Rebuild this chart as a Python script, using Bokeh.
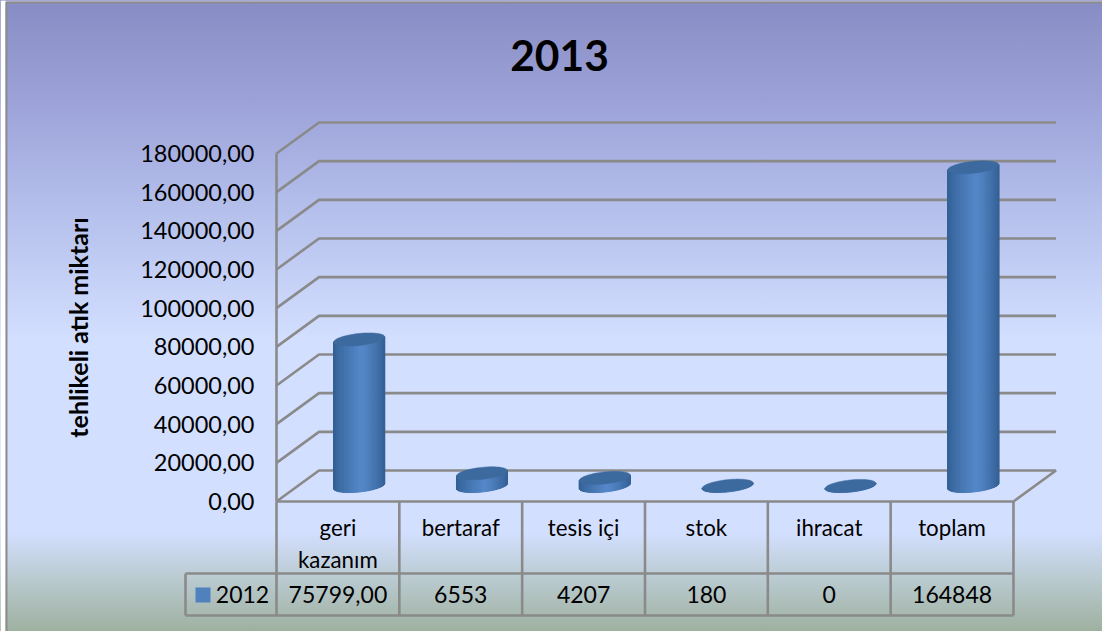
import numpy as np
from bokeh.plotting import figure
from bokeh.models import Range1d, LinearAxis, FixedTicker
from bokeh.core.properties import value
from bokeh.embed import file_html
from bokeh.resources import INLINE

# --- data ---
title = "2013"
categories = ["geri\nkazanım", "bertaraf", "tesis içi", "stok", "ihracat", "toplam"]
values = [75799.0, 6553, 4207, 180, 0, 164848]
table_labels = ["75799,00", "6553", "4207", "180", "0", "164848"]
series_name = "2012"
y_ticks = [0, 20000, 40000, 60000, 80000, 100000, 120000, 140000, 160000, 180000]
y_tick_labels = ["0,00", "20000,00", "40000,00", "60000,00", "80000,00", "100000,00",
                 "120000,00", "140000,00", "160000,00", "180000,00"]
y_label = "tehlikeli atık miktarı"

# --- layout in page pixels, mapped to data space ---
COL = 122.83
UNIT = 180000 / 348
def X(px): return (px - 276) / COL
def Y(py): return (501 - py) * UNIT
DX = 42.5 / COL
DY = 31 * UNIT
FONT = value("Lato")
GREY = "#8a8a8a"
LW = 2.6
W, H = 1102, 631

stops = [(0, (136, 140, 196)), (100, (156, 162, 216)), (200, (178, 189, 234)),
         (340, (211, 223, 255)), (532, (211, 223, 255)), (575, (188, 204, 212)), (631, (158, 177, 160))]
grad = "linear-gradient(to bottom," + ",".join(
    f"rgb{c} {y / H * 100:.2f}%" for y, c in stops) + ")"

p = figure(width=W, height=H, output_backend="svg", toolbar_location=None,
           x_range=Range1d(X(0), X(W)), y_range=Range1d(Y(H), Y(0)),
           x_axis_type=None, y_axis_type=None, min_border=0,
           background_fill_color=None, border_fill_color=None, outline_line_color=None,
           styles={"background": grad})
p.grid.visible = False

# outer frame of the chart area
p.quad(left=[X(0), X(0)], right=[X(5), X(W)], top=[Y(0), Y(0)], bottom=[Y(H), Y(1)],
       fill_color="#ffffff", line_color=None)
p.multi_line([[X(6), X(6), X(W)]], [[Y(H), Y(2), Y(2)]], line_color="#8c8c8c", line_width=2)

# walls: gridlines
xs, ys = [], []
for t in y_ticks[1:]:
    xs.append([0, DX, 6 + DX]); ys.append([t, t + DY, t + DY])
xs.append([0, DX, 6 + DX, 6, 0]); ys.append([0, DY, DY, 0, 0])
p.multi_line(xs, ys, line_color=GREY, line_width=LW)

# axes
ya = LinearAxis(fixed_location=0, ticker=FixedTicker(ticks=y_ticks), bounds=(0, 180000),
                major_label_overrides=dict(zip(y_ticks, y_tick_labels)),
                axis_line_color=GREY, axis_line_width=LW,
                major_tick_line_color=None, minor_tick_line_color=None, major_tick_out=0, major_tick_in=0,
                major_label_text_font="Lato", major_label_text_font_size="23.5px",
                major_label_text_color="#000000", major_label_standoff=22,
                axis_label=y_label, axis_label_text_font="Lato", axis_label_text_font_style="bold",
                axis_label_text_font_size="25px", axis_label_text_color="#000000", axis_label_standoff=44)
p.add_layout(ya, "left")
cat_pos = [i + 0.5 for i in range(len(categories))]
xa = LinearAxis(fixed_location=0, ticker=FixedTicker(ticks=cat_pos),
                major_label_overrides=dict(zip(cat_pos, categories)),
                axis_line_color=None, major_tick_line_color=None, minor_tick_line_color=None,
                major_tick_out=0, major_tick_in=0,
                major_label_text_font="Lato", major_label_text_font_size="22.3px",
                major_label_text_color="#000000", major_label_standoff=12,
                major_label_text_line_height=1.2)
p.add_layout(xa, "below")

# cylinders
R = 25.5 / COL
TILT = 2.6 * UNIT
B = 6 * UNIT
th = np.linspace(np.pi, 0, 41)
U = np.cos(th)
def shade(u):
    t = (u + 1) / 2
    a, m, z = np.array((50, 95, 148)), np.array((85, 136, 201)), np.array((54, 98, 150))
    c = a + (m - a) * (t / 0.55) ** 0.8 if t < 0.55 else m + (z - m) * ((t - 0.55) / 0.45) ** 1.3
    return "#%02x%02x%02x" % tuple(int(v) for v in c)
for i, v in enumerate(values):
    cx = i + 0.5 + DX / 2
    cy = DY / 2
    sx, sy, sc = [], [], []
    for u0, u1 in zip(U[:-1], U[1:]):
        bot0 = cy + TILT * u0 - B * np.sqrt(max(1 - u0 * u0, 0))
        bot1 = cy + TILT * u1 - B * np.sqrt(max(1 - u1 * u1, 0))
        sx.append([cx + u0 * R, cx + u1 * R, cx + u1 * R, cx + u0 * R])
        sy.append([bot0, bot1, cy + v + TILT * u1, cy + v + TILT * u0])
        sc.append(shade((u0 + u1) / 2))
    p.patches(sx, sy, fill_color=sc, line_color=sc, line_width=1.0)
    t = np.linspace(0, 2 * np.pi, 60)
    p.patch(cx + R * np.cos(t), cy + v + TILT * np.cos(t) + B * np.sin(t),
            fill_color="#3c6a9e", line_color="#3c6a9e", line_width=0.5)

# data table
ROW1, ROW2 = Y(573), Y(615)
KEY = X(185)
n = len(categories)
tx = [[i, i] for i in range(n + 1)] + [[KEY, KEY], [KEY, n], [KEY, n]]
ty = [[0, ROW2] for _ in range(n + 1)] + [[ROW1, ROW2], [ROW1, ROW1], [ROW2, ROW2]]
p.multi_line(tx, ty, line_color=GREY, line_width=LW)
p.text(cat_pos, [(ROW1 + ROW2) / 2] * n, text=table_labels, text_font=FONT, text_font_size="23px",
       text_align="center", text_baseline="middle", text_color="#000000")
p.text([X(242)], [(ROW1 + ROW2) / 2], text=[series_name], text_font=FONT, text_font_size="23px",
       text_align="center", text_baseline="middle", text_color="#000000")
p.quad(left=[X(195)], right=[X(210)], top=[Y(587)], bottom=[Y(602)], fill_color="#4f81bd", line_color=None)

# title
p.text([X(559)], [Y(55)], text=[title], text_font=FONT, text_font_style="bold", text_font_size="42.5px",
       text_align="center", text_baseline="middle", text_color="#000000")

open("out.html", "w").write(file_html(p, INLINE))
